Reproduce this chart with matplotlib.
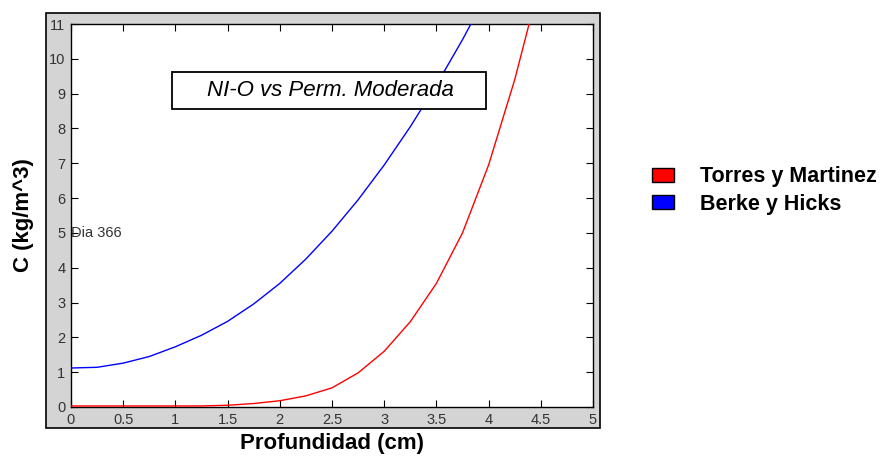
import matplotlib
matplotlib.use("Agg")
import matplotlib.pyplot as plt
from matplotlib.patches import Rectangle, Patch

plt.rcParams['font.family'] = ['Liberation Sans', 'DejaVu Sans']

# Data
depth = [0, 0.25, 0.5, 0.75, 1.0, 1.25, 1.5, 1.75, 2.0, 2.25, 2.5, 2.75,
         3.0, 3.25, 3.5, 3.75, 4.0, 4.25, 4.5]
torres = [0.03, 0.03, 0.03, 0.03, 0.03, 0.03, 0.05, 0.10, 0.18, 0.32, 0.55, 0.98,
          1.6, 2.45, 3.55, 5.0, 6.95, 9.4, 12.3]
berke_x = [0, 0.25, 0.5, 0.75, 1.0, 1.25, 1.5, 1.75, 2.0, 2.25, 2.5, 2.75,
           3.0, 3.25, 3.5, 3.75, 4.0]
berke = [1.12, 1.14, 1.26, 1.45, 1.73, 2.06, 2.46, 2.96, 3.55, 4.25, 5.05, 5.95,
         6.95, 8.05, 9.25, 10.55, 11.95]

series_labels = ["Torres y Martinez", "Berke y Hicks"]
xticks = [0, 0.5, 1, 1.5, 2, 2.5, 3, 3.5, 4, 4.5, 5]
xticklabels = ["0", "0.5", "1", "1.5", "2", "2.5", "3", "3.5", "4", "4.5", "5"]
yticks = list(range(0, 12))
title_text = "NI-O vs Perm. Moderada"
note_text = "Dia 366"

W, H = 887, 457
fig = plt.figure(figsize=(W / 100, H / 100), dpi=100)
fig.patch.set_facecolor('white')

# gray panel behind axes
panel = Rectangle((46 / W, 1 - 428 / H), (600 - 46) / W, (428 - 13) / H,
                  transform=fig.transFigure, facecolor='#d4d4d4',
                  edgecolor='black', linewidth=1.2, zorder=-10)
fig.patches.append(panel)

ax = fig.add_axes([71 / W, 1 - 407 / H, (593 - 71) / W, (407 - 24) / H])
ax.set_zorder(5)
ax.set_facecolor('white')
ax.plot(depth, torres, color='red', lw=1.0, clip_on=True, zorder=3)
ax.plot(berke_x, berke, color='blue', lw=1.0, clip_on=True, zorder=3)
ax.set_xlim(0, 5)
ax.set_ylim(0, 11)
ax.set_xticks(xticks)
ax.set_xticklabels(xticklabels)
ax.set_yticks(yticks)
ax.tick_params(direction='in', length=5, width=0.8, top=True, right=True,
               labelsize=10.5, labelcolor='#333333', pad=4)
for s in ax.spines.values():
    s.set_linewidth(1.0)
    s.set_color('black')

ax.set_xlabel("Profundidad (cm)", fontsize=16, fontweight='bold', labelpad=5)
ax.set_ylabel("C (kg/m^3)", fontsize=16, fontweight='bold', labelpad=11)

# title box inside axes
tb = Rectangle((172.5 / W, 1 - 108.5 / H), (486 - 172.5) / W, (108.5 - 72.5) / H,
               transform=fig.transFigure, facecolor='white', edgecolor='black',
               linewidth=1.3, zorder=4, clip_on=False)
ax.add_patch(tb)
ax.text(330 / W, 1 - 90.5 / H, title_text, transform=fig.transFigure, fontsize=16,
        style='italic', ha='center', va='center', zorder=6)

# note
ax.text(0.0, 5.0, note_text, fontsize=10.5, color='#333333', ha='left', va='center')

# legend
handles = [Patch(facecolor='red', edgecolor='black', linewidth=1.0),
           Patch(facecolor='blue', edgecolor='black', linewidth=1.0)]
fig.legend(handles, series_labels, loc='upper left',
           bbox_to_anchor=(646 / W, 1 - 160 / H), frameon=False,
           prop={'weight': 'bold', 'size': 15.5},
           handlelength=1.0, handleheight=0.6, handletextpad=1.2,
           labelspacing=0.3, borderaxespad=0, borderpad=0.3)

fig.savefig("out.png", dpi=100)
